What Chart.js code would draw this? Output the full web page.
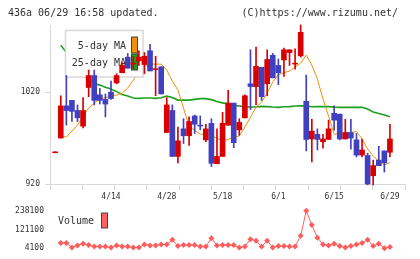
<!DOCTYPE html>
<html>
<head>
<meta charset="utf-8">
<script src="https://cdn.jsdelivr.net/npm/chart.js@4"></script>
<style>
html, body { margin: 0; background: #fff; overflow: hidden; }
#wrap { position: relative; width: 420px; height: 259px; overflow: hidden; }
#main { position: absolute; left: 0; top: 0; }
#vol { position: absolute; left: 0; top: 200px; }
</style>
</head>
<body>
<div id="wrap">
  <canvas id="main" width="420" height="200"></canvas>
  <canvas id="vol" width="420" height="59"></canvas>
</div>
<script>
// trading days shown on the chart
var dates = ['3/31','4/1','4/2','4/3','4/6','4/7','4/8','4/9','4/10','4/13',
  '4/14','4/15','4/16','4/17','4/20','4/21','4/22','4/23','4/24','4/27',
  '4/28','4/30','5/1','5/7','5/8','5/11','5/12','5/13','5/14','5/15',
  '5/18','5/19','5/20','5/21','5/22','5/25','5/26','5/27','5/28','5/29',
  '6/1','6/2','6/3','6/4','6/5','6/8','6/9','6/10','6/11','6/12',
  '6/15','6/16','6/17','6/18','6/19','6/22','6/23','6/24','6/25','6/26',
  '6/29'];
var xTickLabels = ['4/14','4/28','5/18','6/1','6/15','6/29'];
var yTicks = [920, 1020];
var volTicks = [4100, 121100, 238100];

var open = [954,970,1005,1011,1000,983,1025,1038,1017,1012,
  1020,1030,1041,1058,1050.5,1054,1050,1065,1044.5,1047.5,
  976,1000,950,980,972.5,994,984,968,986,942,
  950,984,1008,979,992,1029,1026,1047,1029,1060,
  1049,1055,1063,1050.5,1059.5,1010,969,974,966,968.5,
  997,996,969,976,968,951.5,951,929,946,956,
  954.5];
var high = [955,1016,1038,1011,1006,1014,1044,1044,1024,1018,
  1032,1040,1052,1062,1059,1065,1063,1072,1059,1047.5,
  1014,1006,982,991,993,995,994,985,991,980,
  998,1022,1008,991,1017,1066,1069,1047,1066,1062,
  1056,1068,1066,1067,1093,1038.5,990.5,980,974,989.5,
  1005,996,990.5,990.5,975,969,953.5,946,961,956,
  985];
var low = [954,970,984,988,988,981,1015,1006,1007,993,
  1012,1029,1041,1046,1045,1049,1040,1043,1016,1018,
  976,950,943,964,962,975,979,966,939,942,
  950,984,959.5,973,992,1001,1006,1011,1016,1035.5,
  1028,1037,1049,1045,1058,956,944,957,959,968.5,
  978.5,968,969,958,949.5,949.5,919,919,940,933,
  949.5];
var close = [955,1005,1000,999,992,1000,1038,1011,1011,1007,
  1013,1038,1049,1046,1051.5,1058,1059,1043,1045.5,1018,
  1006,950,967,972.5,988,985,983,980,942.5,950,
  986,1008,965,987,1016,1026,1048,1015,1055.5,1035.5,
  1041,1066,1066,1051.5,1085,968.5,977.5,968.5,969,980,
  989.5,969,976,970,951.5,957,920,940,940,943,
  969];
var ma5 = [null,972.2,971.1,977.6,984.1,993.9,1002.6,1008,1012.4,1014,
  1015.7,1016.7,1018.9,1024.3,1033,1041.7,1048.8,1050.4,1050.4,1050.4,
  1043.9,1032,1022.2,1002.6,983,978.2,974.3,973.8,973.3,969.7,
  967.3,968.4,971.1,972.2,982,992.8,1003.7,1009.1,1018.9,1030.9,
  1039,1041.2,1042.8,1047.2,1051.5,1060.2,1049.3,1034.1,1012.4,993.9,
  974.3,974.9,975.1,976,977.1,968.9,958,950.4,945,940.7,
  943.4];
var ma25 = [null,1071.1,1063,1053.5,1046.6,1039,1033.6,1029.2,1027.6,1025.4,
  1023.3,1020.5,1017.3,1015.7,1013.5,1013.2,1013.5,1013.5,1013.2,1013.8,
  1015.7,1014,1011.3,1011.3,1011.3,1012.1,1012.9,1012.9,1011.8,1009.7,
  1008.3,1007.2,1005.5,1004.8,1004.2,1003.7,1003.7,1004.5,1004.2,1003.7,
  1003.4,1004,1004.2,1004.8,1005.1,1004.8,1004,1004.2,1004.2,1004.2,
  1003.7,1003.4,1003.4,1003.4,1003.4,1003.4,1001.5,998.3,996.6,995,
  993.2];
var volume = [null,37400,37400,8200,21600,31600,23400,14000,14000,14000,
  8200,21600,14000,14000,8200,8200,27500,21600,21600,27500,
  27500,56700,17600,23400,23400,23400,14000,14000,66700,21600,
  23400,23400,23400,8200,14000,60800,50900,14000,50900,8200,
  17600,17600,14000,14000,81900,238100,148600,70200,27500,21600,
  31600,17600,8200,17600,27500,37400,56700,17600,31600,4100,
  11700];

var headLeft = '436a 06/29 16:58 updated.';
var headRight = '(C)https://www.rizumu.net/';

var UP = '#d80000', DOWN = '#4040c0';
var FONT = 'DejaVu Sans Mono';
var X_MIN = -0.93, X_MAX = 62.7;

var bodies = [], wicks = [], colors = [], ma5Pts = [], ma25Pts = [], volPts = [];
for (var i = 0; i < dates.length; i++) {
  bodies.push({x: i, y: [open[i], close[i]]});
  wicks.push({x: i, y: [low[i], high[i]]});
  colors.push(close[i] >= open[i] ? UP : DOWN);
  ma5Pts.push({x: i, y: ma5[i]});
  ma25Pts.push({x: i, y: ma25[i]});
  volPts.push({x: i, y: volume[i]});
}
var xTickIdx = xTickLabels.map(function(l) { return dates.indexOf(l); });

var maItems = [
  {text: '5-day MA', color: '#f0900a'},
  {text: '25-day MA', color: '#1ea01e'}
];

// legend box sits above the MA lines but under the candles
var maLegend = {
  id: 'maLegend',
  beforeDatasetDraw: function(chart, args) {
    if (args.index !== 1) return;
    var ctx = chart.ctx;
    ctx.save();
    ctx.fillStyle = '#fff';
    ctx.fillRect(65, 30, 78, 47);
    ctx.strokeStyle = '#d8d8d8';
    ctx.lineWidth = 1.5;
    ctx.strokeRect(65.5, 30.5, 77.5, 46.5);
    ctx.font = '10px ' + FONT;
    ctx.textAlign = 'right';
    ctx.textBaseline = 'middle';
    maItems.forEach(function(it, k) {
      var top = 37 + k * 17;
      ctx.fillStyle = '#333';
      ctx.fillText(it.text, 126, top + 9);
      ctx.fillStyle = it.color;
      ctx.fillRect(131.5, top, 6, 16);
      ctx.strokeStyle = '#444';
      ctx.lineWidth = 1;
      ctx.strokeRect(131.5, top, 6, 16);
    });
    ctx.restore();
  },
  afterDraw: function(chart) {
    var ctx = chart.ctx;
    ctx.save();
    ctx.font = '10px ' + FONT;
    ctx.fillStyle = '#333';
    ctx.textBaseline = 'middle';
    ctx.textAlign = 'left';
    ctx.fillText(headLeft, 8, 13);
    ctx.textAlign = 'right';
    ctx.fillText(headRight, 398, 13);
    ctx.restore();
  }
};

var volLegend = {
  id: 'volLegend',
  afterDraw: function(chart) {
    var ctx = chart.ctx;
    ctx.save();
    ctx.font = '10px ' + FONT;
    ctx.fillStyle = '#333';
    ctx.textAlign = 'left';
    ctx.textBaseline = 'middle';
    ctx.fillText('Volume', 58, 21.5);
    ctx.fillStyle = '#ff6060';
    ctx.fillRect(101.5, 13, 6, 15);
    ctx.strokeStyle = '#444';
    ctx.lineWidth = 1;
    ctx.strokeRect(101.5, 13, 6, 15);
    ctx.restore();
  }
};

var tickFont = {family: FONT, size: 8};
var axisGrey = '#d8d8d8';
var plain = function(v) { return String(v); };

var mainChart = new Chart(document.getElementById('main'), {
  type: 'bar',
  data: {
    datasets: [
      {type: 'bar', label: 'body', data: bodies, backgroundColor: colors, barThickness: 5, grouped: false, order: 0, clip: false},
      {type: 'bar', label: 'wick', data: wicks, backgroundColor: colors, barThickness: 1, grouped: false, order: 1, clip: false},
      {type: 'line', label: '5-day MA', data: ma5Pts, borderColor: maItems[0].color, borderWidth: 1, pointRadius: 0, tension: 0, order: 2},
      {type: 'line', label: '25-day MA', data: ma25Pts, borderColor: maItems[1].color, borderWidth: 1.6, pointRadius: 0, tension: 0, order: 3}
    ]
  },
  options: {
    responsive: false,
    animation: false,
    events: [],
    layout: {padding: {top: 25, right: 15, bottom: 0, left: 0}},
    plugins: {legend: {display: false}, tooltip: {enabled: false}},
    scales: {
      x: {
        type: 'linear', position: 'bottom', weight: 1, min: X_MIN, max: X_MAX, offset: false,
        grid: {display: false, drawTicks: false, offset: false},
        border: {display: false},
        ticks: {font: tickFont, color: '#333', padding: 2, autoSkip: false, maxRotation: 0,
          callback: function(v) { return dates[v]; }},
        afterBuildTicks: function(s) { s.ticks = xTickIdx.map(function(v) { return {value: v}; }); },
        afterFit: function(s) { s.height = 10; }
      },
      xt: {
        type: 'linear', position: 'bottom', weight: 0, min: 0, max: 11, offset: false,
        grid: {drawOnChartArea: false, drawTicks: true, tickLength: 6, color: axisGrey, offset: false},
        border: {display: true, color: axisGrey},
        ticks: {display: false, stepSize: 1},
        afterFit: function(s) { s.height = 6; }
      },
      y: {
        type: 'linear', min: 920, max: 1093,
        grid: {drawOnChartArea: false, tickLength: 5, color: axisGrey},
        border: {display: true, color: axisGrey},
        ticks: {font: tickFont, color: '#333', padding: 5, callback: plain},
        afterBuildTicks: function(s) { s.ticks = yTicks.map(function(v) { return {value: v}; }); },
        afterFit: function(s) { s.width = 50; }
      }
    }
  },
  plugins: [maLegend]
});

var volChart = new Chart(document.getElementById('vol'), {
  type: 'line',
  data: {
    datasets: [{
      label: 'Volume', data: volPts, borderColor: '#ff5c5c', borderWidth: 1,
      pointStyle: 'rectRot', pointRadius: 3, pointBorderWidth: 0,
      pointBackgroundColor: '#ff5c5c', tension: 0, clip: false
    }]
  },
  options: {
    responsive: false,
    animation: false,
    events: [],
    layout: {padding: {top: 9, right: 15, bottom: 10, left: 0}},
    plugins: {legend: {display: false}, tooltip: {enabled: false}},
    scales: {
      x: {type: 'linear', display: false, min: X_MIN, max: X_MAX},
      y: {
        type: 'linear', min: volTicks[0], max: volTicks[volTicks.length - 1],
        grid: {display: false, drawTicks: false},
        border: {display: false},
        ticks: {font: tickFont, color: '#333', padding: 6, callback: plain},
        afterBuildTicks: function(s) { s.ticks = volTicks.map(function(v) { return {value: v}; }); },
        afterFit: function(s) { s.width = 50; }
      }
    }
  },
  plugins: [volLegend]
});
</script>
</body>
</html>
